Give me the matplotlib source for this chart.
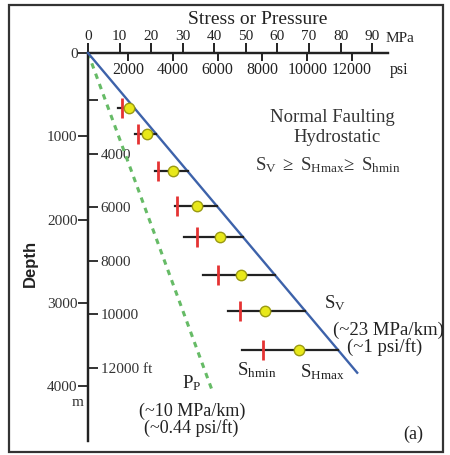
import matplotlib
matplotlib.use("Agg")
import matplotlib.pyplot as plt
import numpy as np
from matplotlib.patches import Rectangle

plt.rcParams['font.family'] = ['Liberation Serif', 'DejaVu Serif']
plt.rcParams['mathtext.fontset'] = 'custom'
plt.rcParams['mathtext.rm'] = 'Liberation Serif'
plt.rcParams['mathtext.it'] = 'Liberation Serif:italic'
plt.rcParams['mathtext.bf'] = 'Liberation Serif:bold'

# ---------------- data ----------------
depth_m = [660, 970, 1420, 1840, 2210, 2670, 3100, 3570]          # depth of each stress estimate
shmin_mpa = [10.8, 15.8, 22.2, 28.2, 34.5, 41.1, 48.1, 55.4]      # red ticks
shmax_mpa = [13.0, 18.7, 26.9, 34.5, 41.8, 48.4, 56.0, 66.8]      # yellow circles
range_low_mpa = [9.5, 14.9, 21.2, 27.5, 30.4, 36.4, 44.3, 48.7]   # left end of black bars
sv_gradient = 22.2        # MPa/km
sv_depth = [0, 3840]      # extent of Sv line (m)
pp_gradient = 9.7         # MPa/km
pp_depth = [0, 4080]      # extent of Pp line (m)

mpa_ticks = [0, 10, 20, 30, 40, 50, 60, 70, 80, 90]
psi_ticks = [2000, 4000, 6000, 8000, 10000, 12000]
psi_labels = ['2000', '4000', '6000', '8000', '10000', '12000']
m_ticks = [0, 1000, 2000, 3000, 4000]
m_labels = ['0', '1000', '2000', '3000', '4000']
ft_ticks = [2000, 4000, 6000, 8000, 10000, 12000]
ft_labels = ['', '4000', '6000', '8000', '10000', '12000 ft']

# scales as drawn in the original figure
MPA_PER_PSI, PSI_OFF = 0.00709, -1.5
M_PER_FT, FT_OFF = 0.3218, -79.0

W, H = 450, 455
fig = plt.figure(figsize=(W / 100, H / 100), dpi=100)
ax = fig.add_axes([88 / W, 1 - 441 / H, 300 / W, 388 / H])
ax.set_xlim(0, 95)
ax.set_ylim(4660, 0)
ax.patch.set_alpha(0)

for s in ['right', 'bottom']:
    ax.spines[s].set_visible(False)
for s in ['left', 'top']:
    ax.spines[s].set_linewidth(1.6)
    ax.spines[s].set_color('#222222')

ax.xaxis.tick_top()
ax.set_xticks(mpa_ticks)
ax.set_xticklabels([str(v) for v in mpa_ticks])
ax.tick_params(axis='x', direction='out', length=7, width=1.4, pad=0,
               labelsize=11, colors='#222222')
ax.set_yticks(m_ticks)
ax.set_yticklabels(m_labels)
ax.tick_params(axis='y', direction='out', length=7, width=1.4, pad=0.5,
               labelsize=11, colors='#333333')

# psi scale below top axis
secx = ax.secondary_xaxis('top', functions=(lambda x: (x - PSI_OFF) / MPA_PER_PSI,
                                            lambda p: p * MPA_PER_PSI + PSI_OFF))
secx.set_alignment('bottom')
secx.set_xticks(psi_ticks)
secx.set_xticklabels(psi_labels)
secx.tick_params(axis='x', direction='out', length=6, width=1.4, pad=0.5,
                 labelsize=11.5, colors='#222222')
for sp in secx.spines.values():
    sp.set_linewidth(1.6)
    sp.set_color('#222222')

# ft scale right of depth axis
secy = ax.secondary_yaxis('left', functions=(lambda m: (m - FT_OFF) / M_PER_FT,
                                             lambda f: f * M_PER_FT + FT_OFF))
secy.set_alignment('right')
secy.set_yticks(ft_ticks)
secy.set_yticklabels(ft_labels)
secy.tick_params(axis='y', direction='out', length=7, width=1.4, pad=2,
                 labelsize=11, colors='#333333')
for sp in secy.spines.values():
    sp.set_linewidth(1.6)
    sp.set_color('#222222')

# Sv and Pp lines
sv_stress = [sv_gradient * d / 1000 for d in sv_depth]
pp_stress = [pp_gradient * d / 1000 for d in pp_depth]
ax.plot(sv_stress, sv_depth, color='#3d62aa', lw=1.7, clip_on=False, zorder=3)
ax.plot(pp_stress, pp_depth, color='#66bb66', lw=2.2, ls=(0, (1.8, 1.8)),
        clip_on=False, zorder=2)

# stress ranges
for d, lo, hmin, hmax in zip(depth_m, range_low_mpa, shmin_mpa, shmax_mpa):
    ax.plot([lo, sv_gradient * d / 1000], [d, d], color='#222222', lw=1.6, zorder=4)
ax.plot(shmin_mpa, depth_m, ls='none', marker='|', ms=14, mew=2.0,
        color='#e53333', zorder=5)
ax.plot(shmax_mpa, depth_m, ls='none', marker='o', ms=7.5, mfc='#e8e81a',
        mec='#9a9a12', mew=1.0, zorder=6)


def ftext(px, py, s, **kw):
    fig.text(px / W, 1 - py / H, s, **kw)


ftext(258, 20, 'Stress or Pressure', ha='center', va='center', fontsize=14,
      color='#222222')
ftext(386, 38, 'MPa', ha='left', va='center', fontsize=11, color='#222222')
ftext(390, 70, 'psi', ha='left', va='center', fontsize=11.5, color='#222222')
ftext(84, 402, 'm', ha='right', va='center', fontsize=11, color='#333333')

ftext(332, 117, 'Normal Faulting', ha='center', va='center', fontsize=13.5, color='#333333')
ftext(337, 137, 'Hydrostatic', ha='center', va='center', fontsize=13.5, color='#333333')
ftext(255, 165, r'$\mathrm{S_V\ \geq\ S_{Hmax}\!\geq\ S_{hmin}}$', ha='left',
      va='center', fontsize=13.5, color='#333333')

ftext(324, 308, r'$\mathrm{S_V}$', ha='left', va='baseline', fontsize=13.5, color='#222222')
ftext(333, 335, '(~23 MPa/km)', ha='left', va='baseline', fontsize=13.5, color='#222222')
ftext(347, 352, '(~1 psi/ft)', ha='left', va='baseline', fontsize=13.5, color='#222222')
ftext(237, 375, r'$\mathrm{S_{hmin}}$', ha='left', va='baseline', fontsize=13.5, color='#222222')
ftext(300, 377, r'$\mathrm{S_{Hmax}}$', ha='left', va='baseline', fontsize=13.5, color='#222222')
ftext(182, 388, r'$\mathrm{P_P}$', ha='left', va='baseline', fontsize=13.5, color='#222222')
ftext(139, 416, '(~10 MPa/km)', ha='left', va='baseline', fontsize=13, color='#222222')
ftext(144, 433, '(~0.44 psi/ft)', ha='left', va='baseline', fontsize=13, color='#222222')
ftext(413, 434, '(a)', ha='center', va='center', fontsize=13, color='#222222')
ftext(30, 263, 'Depth', ha='center', va='center', rotation=90, fontsize=12,
      fontweight='bold', family='Liberation Sans', color='#222222')

fig.patches.append(Rectangle((9 / W, 1 - 452 / H), (443 - 9) / W, (452 - 5) / H,
                             transform=fig.transFigure, fill=False, lw=1.6,
                             ec='#333333'))

fig.savefig('out.png', dpi=100)
